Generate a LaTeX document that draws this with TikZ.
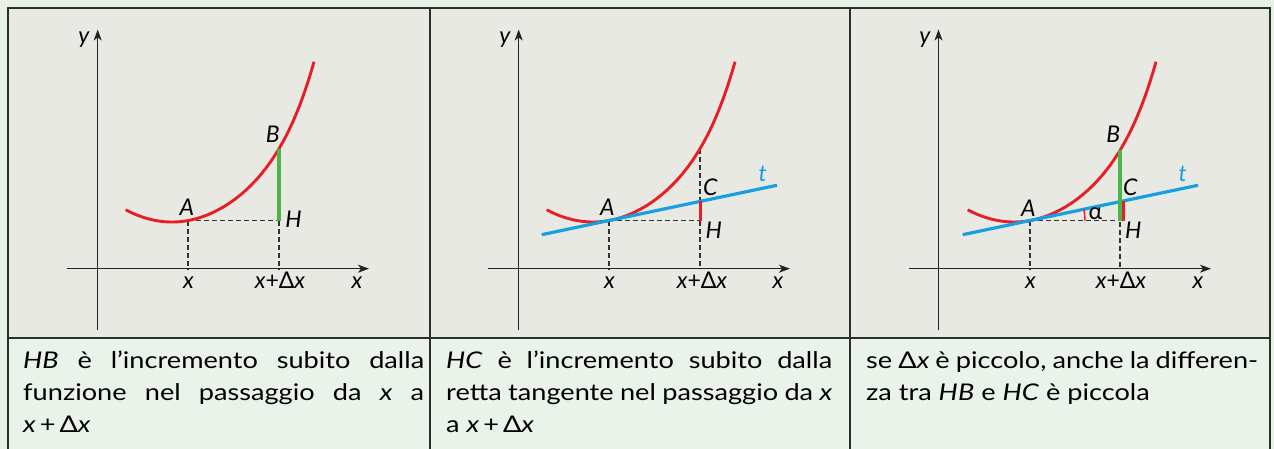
\documentclass[tikz,border=0pt]{standalone}
\usepackage{fontspec}
\setmainfont{Lato}
\newfontfamily\capfamily[FakeStretch=1.18]{Lato}
\usetikzlibrary{arrows.meta}
\definecolor{outerbg}{RGB}{231,241,230}
\definecolor{panelbg}{RGB}{233,233,228}
\definecolor{textbg}{RGB}{233,243,233}
\definecolor{framec}{RGB}{45,45,45}
\definecolor{curvered}{RGB}{232,30,37}
\definecolor{seggreen}{RGB}{76,180,72}
\definecolor{tanblue}{RGB}{22,160,226}
\definecolor{axisc}{RGB}{35,35,35}
\definecolor{dashc}{RGB}{50,50,50}
\newcommand\lblfont{\fontsize{23}{27}\selectfont}
\newcommand\capfont{\capfamily\fontsize{23}{32}\selectfont}
\newcommand\curvefn[1]{222-56.7*(#1/100)*(#1/100)-5.6*(#1/100)*(#1/100)*(#1/100)*(#1/100)*(#1/100)*(#1/100)}
\begin{document}
\begin{tikzpicture}[x=1pt,y=-1pt,
  framel/.style={draw=framec, line width=2.3pt},
  axis/.style={draw=axisc, line width=1.4pt, -{Stealth[length=11pt,width=8pt,inset=3pt]}},
  dashline/.style={draw=dashc, line width=1.3pt, dash pattern=on 5pt off 3pt},
  curve/.style={draw=curvered, line width=2.9pt},
  greenseg/.style={draw=seggreen, line width=3.2pt},
  redseg/.style={draw=curvered, line width=3pt},
  tangent/.style={draw=tanblue, line width=3.2pt},
  anglemark/.style={draw=curvered, line width=1.4pt},
  lab/.style={font=\lblfont, inner sep=0pt, anchor=base},
  bodyline/.style={font=\capfont, inner sep=0pt, anchor=base west}]
\useasboundingbox (0,0) rectangle (1274,449);
\fill[outerbg] (0,0) rectangle (1274,449);
\fill[panelbg] (8.3,8.3) rectangle (1270.3,338.3);
\fill[textbg] (8.3,338.3) rectangle (1270.3,449);
\draw[framel] (8.3,449) -- (8.3,8.3) -- (1270.3,8.3) -- (1270.3,449);
\draw[framel] (8.3,338.3) -- (1270.3,338.3);
\draw[framel] (430.2,8.3) -- (430.2,449);
\draw[framel] (849.8,8.3) -- (849.8,449);

% ---------- panel 1 ----------
\begin{scope}
\coordinate (xs1) at (67,268.7); \coordinate (xe1) at (369,268.7);
\coordinate (ys1) at (97.7,330); \coordinate (ye1) at (97.7,29.5);
\draw[axis] (xs1) -- (xe1);
\draw[axis] (ys1) -- (ye1);
\coordinate (A1) at (188,220.55); \coordinate (H1) at (279,220.55); \coordinate (B1) at (279,148.7);
\coordinate (xa1) at (188,268.7); \coordinate (xh1) at (279,268.7);
\draw[dashline] (A1) -- (xa1);
\draw[dashline] (H1) -- (xh1);
\draw[dashline] (A1) -- (H1);
\draw[curve] plot[domain=-46.3:142, samples=90, smooth] ({172+\x}, {\curvefn{\x}});
\draw[greenseg] (H1) -- (B1);
\node[lab] (ly1) at (84,44) {\textit{y}};
\node[lab] (lx1) at (357,288) {\textit{x}};
\node[lab] (lxa1) at (188.5,288) {\textit{x}};
\node[lab] (lxh1) at (280,288) {\textit{x}+Δ\textit{x}};
\node[lab] (lA1) at (187,215) {\textit{A}};
\node[lab] (lB1) at (272.7,143) {\textit{B}};
\node[lab] (lH1) at (293.5,228) {\textit{H}};
\end{scope}

% ---------- panel 2 ----------
\begin{scope}[shift={(421,0)}]
\coordinate (xs2) at (67,268.7); \coordinate (xe2) at (369,268.7);
\coordinate (ys2) at (97.7,330); \coordinate (ye2) at (97.7,29.5);
\draw[axis] (xs2) -- (xe2);
\draw[axis] (ys2) -- (ye2);
\coordinate (A2) at (188,220.55); \coordinate (H2) at (279,220.55);
\coordinate (P2) at (279,148.7); \coordinate (C2) at (279,201.44);
\coordinate (xa2) at (188,268.7); \coordinate (xh2) at (279,268.7);
\coordinate (T2a) at (120.7,234.68); \coordinate (T2b) at (356,185.27);
\draw[dashline] (A2) -- (xa2);
\draw[dashline] (P2) -- (xh2);
\draw[dashline] (A2) -- (H2);
\draw[curve] plot[domain=-46.3:142, samples=90, smooth] ({172+\x}, {\curvefn{\x}});
\draw[tangent] (T2a) -- (T2b);
\draw[redseg] (H2) -- (C2);
\node[lab] (ly2) at (84,44) {\textit{y}};
\node[lab] (lx2) at (357,288) {\textit{x}};
\node[lab] (lxa2) at (188.5,288) {\textit{x}};
\node[lab] (lxh2) at (281,288) {\textit{x}+Δ\textit{x}};
\node[lab] (lA2) at (186.3,215) {\textit{A}};
\node[lab] (lC2) at (289.5,196) {\textit{C}};
\node[lab] (lH2) at (292.8,238) {\textit{H}};
\node[lab, text=tanblue] (lt2) at (341.7,181.7) {\textit{t}};
\end{scope}

% ---------- panel 3 ----------
\begin{scope}[shift={(842,0)}]
\coordinate (xs3) at (67,268.7); \coordinate (xe3) at (369,268.7);
\coordinate (ys3) at (96.5,330); \coordinate (ye3) at (96.5,29.5);
\draw[axis] (xs3) -- (xe3);
\draw[axis] (ys3) -- (ye3);
\coordinate (A3) at (188,220.55); \coordinate (H3) at (278,220.55);
\coordinate (B3) at (278,150.35);
\coordinate (Hr3) at (281,220.55); \coordinate (C3) at (281,201.0);
\coordinate (xa3) at (188,268.7); \coordinate (xh3) at (278,268.7);
\coordinate (T3a) at (120.7,234.68); \coordinate (T3b) at (356,185.27);
\draw[dashline] (A3) -- (xa3);
\draw[dashline] (B3) -- (xh3);
\draw[dashline] (A3) -- (H3);
\draw[curve] plot[domain=-46.3:142, samples=90, smooth] ({172+\x}, {\curvefn{\x}});
\draw[tangent] (T3a) -- (T3b);
\draw[greenseg] (H3) -- (B3);
\draw[redseg] (Hr3) -- (C3);
\draw[anglemark] (A3) ++(55,0) arc[start angle=0, end angle=11.86, radius=55pt];
\node[lab] (ly3) at (83,44) {\textit{y}};
\node[lab] (lx3) at (356,288) {\textit{x}};
\node[lab] (lxa3) at (188.5,288) {\textit{x}};
\node[lab] (lxh3) at (279,288) {\textit{x}+Δ\textit{x}};
\node[lab] (lA3) at (186.3,216.7) {\textit{A}};
\node[lab] (lB3) at (271.3,142.7) {\textit{B}};
\node[lab] (lC3) at (288.5,196) {\textit{C}};
\node[lab] (lH3) at (291.2,238) {\textit{H}};
\node[lab] (lal3) at (253.5,220) {α};
\node[lab, text=tanblue] (lt3) at (340.7,181.7) {\textit{t}};
\end{scope}

% ---------- captions ----------
\node[bodyline] (c1a) at (23,368) {\makebox[401pt][s]{\textit{HB} è l’incremento subito dalla}};
\node[bodyline] (c1b) at (23,400) {\makebox[401pt][s]{funzione nel passaggio da \textit{x} a}};
\node[bodyline] (c1c) at (23,432) {\textit{x}\hspace{4pt}+\hspace{4pt}Δ\textit{x}};
\node[bodyline] (c2a) at (446,368) {\makebox[386pt][s]{\textit{HC} è l’incremento subito dalla}};
\node[bodyline] (c2b) at (446,400) {\makebox[386pt][s]{retta tangente nel passaggio da \textit{x}}};
\node[bodyline] (c2c) at (446,432) {a \textit{x}\hspace{4pt}+\hspace{4pt}Δ\textit{x}};
\node[bodyline] (c3a) at (866,368) {\makebox[392pt][s]{se Δ\textit{x} è piccolo, anche la differen-}};
\node[bodyline] (c3b) at (866,400) {za tra \textit{HB} e \textit{HC} è piccola};
\end{tikzpicture}
\end{document}
